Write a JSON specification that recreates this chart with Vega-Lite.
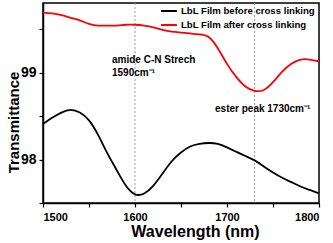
{
  "$schema": "https://vega.github.io/schema/vega-lite/v6.json",
  "width": 276,
  "height": 200,
  "autosize": "none",
  "padding": {"left": 43, "top": 3, "right": 14, "bottom": 40},
  "config": {
    "font": "Liberation Sans",
    "view": {"stroke": "black", "strokeWidth": 1.5},
    "axis": {"domainColor": "black", "domainWidth": 1.5, "tickColor": "black", "tickWidth": 1.2, "tickSize": 4, "grid": false, "labelFont": "Liberation Sans", "labelFontWeight": "bold", "labelColor": "black", "titleFont": "Liberation Sans", "titleFontWeight": "bold", "titleColor": "black"}
  },
  "datasets": {
    "spectra": [
      {"wl": 1500, "t": 98.41, "s": "LbL Film before cross linking"},
      {"wl": 1510, "t": 98.48, "s": "LbL Film before cross linking"},
      {"wl": 1520, "t": 98.54, "s": "LbL Film before cross linking"},
      {"wl": 1530, "t": 98.57, "s": "LbL Film before cross linking"},
      {"wl": 1540, "t": 98.54, "s": "LbL Film before cross linking"},
      {"wl": 1550, "t": 98.45, "s": "LbL Film before cross linking"},
      {"wl": 1560, "t": 98.28, "s": "LbL Film before cross linking"},
      {"wl": 1570, "t": 98.07, "s": "LbL Film before cross linking"},
      {"wl": 1580, "t": 97.88, "s": "LbL Film before cross linking"},
      {"wl": 1590, "t": 97.7, "s": "LbL Film before cross linking"},
      {"wl": 1600, "t": 97.6, "s": "LbL Film before cross linking"},
      {"wl": 1610, "t": 97.61, "s": "LbL Film before cross linking"},
      {"wl": 1620, "t": 97.7, "s": "LbL Film before cross linking"},
      {"wl": 1630, "t": 97.84, "s": "LbL Film before cross linking"},
      {"wl": 1640, "t": 97.98, "s": "LbL Film before cross linking"},
      {"wl": 1650, "t": 98.08, "s": "LbL Film before cross linking"},
      {"wl": 1660, "t": 98.15, "s": "LbL Film before cross linking"},
      {"wl": 1670, "t": 98.18, "s": "LbL Film before cross linking"},
      {"wl": 1680, "t": 98.19, "s": "LbL Film before cross linking"},
      {"wl": 1690, "t": 98.18, "s": "LbL Film before cross linking"},
      {"wl": 1700, "t": 98.14, "s": "LbL Film before cross linking"},
      {"wl": 1710, "t": 98.09, "s": "LbL Film before cross linking"},
      {"wl": 1720, "t": 98.04, "s": "LbL Film before cross linking"},
      {"wl": 1730, "t": 97.99, "s": "LbL Film before cross linking"},
      {"wl": 1740, "t": 97.92, "s": "LbL Film before cross linking"},
      {"wl": 1750, "t": 97.85, "s": "LbL Film before cross linking"},
      {"wl": 1760, "t": 97.79, "s": "LbL Film before cross linking"},
      {"wl": 1770, "t": 97.74, "s": "LbL Film before cross linking"},
      {"wl": 1780, "t": 97.69, "s": "LbL Film before cross linking"},
      {"wl": 1790, "t": 97.65, "s": "LbL Film before cross linking"},
      {"wl": 1800, "t": 97.61, "s": "LbL Film before cross linking"},
      {"wl": 1500, "t": 99.69, "s": "LbL Film after cross linking"},
      {"wl": 1510, "t": 99.68, "s": "LbL Film after cross linking"},
      {"wl": 1520, "t": 99.66, "s": "LbL Film after cross linking"},
      {"wl": 1530, "t": 99.63, "s": "LbL Film after cross linking"},
      {"wl": 1540, "t": 99.6, "s": "LbL Film after cross linking"},
      {"wl": 1550, "t": 99.56, "s": "LbL Film after cross linking"},
      {"wl": 1560, "t": 99.54, "s": "LbL Film after cross linking"},
      {"wl": 1570, "t": 99.54, "s": "LbL Film after cross linking"},
      {"wl": 1580, "t": 99.54, "s": "LbL Film after cross linking"},
      {"wl": 1590, "t": 99.55, "s": "LbL Film after cross linking"},
      {"wl": 1600, "t": 99.55, "s": "LbL Film after cross linking"},
      {"wl": 1610, "t": 99.54, "s": "LbL Film after cross linking"},
      {"wl": 1620, "t": 99.52, "s": "LbL Film after cross linking"},
      {"wl": 1630, "t": 99.49, "s": "LbL Film after cross linking"},
      {"wl": 1640, "t": 99.47, "s": "LbL Film after cross linking"},
      {"wl": 1650, "t": 99.46, "s": "LbL Film after cross linking"},
      {"wl": 1660, "t": 99.45, "s": "LbL Film after cross linking"},
      {"wl": 1670, "t": 99.44, "s": "LbL Film after cross linking"},
      {"wl": 1680, "t": 99.41, "s": "LbL Film after cross linking"},
      {"wl": 1690, "t": 99.28, "s": "LbL Film after cross linking"},
      {"wl": 1700, "t": 99.1, "s": "LbL Film after cross linking"},
      {"wl": 1710, "t": 98.95, "s": "LbL Film after cross linking"},
      {"wl": 1720, "t": 98.84, "s": "LbL Film after cross linking"},
      {"wl": 1730, "t": 98.79, "s": "LbL Film after cross linking"},
      {"wl": 1740, "t": 98.8, "s": "LbL Film after cross linking"},
      {"wl": 1750, "t": 98.89, "s": "LbL Film after cross linking"},
      {"wl": 1760, "t": 99.01, "s": "LbL Film after cross linking"},
      {"wl": 1770, "t": 99.1, "s": "LbL Film after cross linking"},
      {"wl": 1780, "t": 99.15, "s": "LbL Film after cross linking"},
      {"wl": 1790, "t": 99.15, "s": "LbL Film after cross linking"},
      {"wl": 1800, "t": 99.13, "s": "LbL Film after cross linking"}
    ],
    "marks": [{"wl": 1600}, {"wl": 1730}],
    "notes": [
      {"wl": 1575, "t": 99.11, "label": "amide C-N Strech"},
      {"wl": 1575, "t": 98.96, "label": "1590cm⁻¹"},
      {"wl": 1687, "t": 98.55, "label": "ester peak 1730cm⁻¹"}
    ]
  },
  "layer": [
    {
      "data": {"name": "marks"},
      "mark": {"type": "rule", "color": "#999999", "strokeDash": [2, 2], "strokeWidth": 1},
      "encoding": {
        "x": {"field": "wl", "type": "quantitative", "scale": {"domain": [1500, 1800]}}
      }
    },
    {
      "data": {"name": "spectra"},
      "mark": {"type": "line", "interpolate": "natural", "strokeWidth": 1.8},
      "encoding": {
        "x": {"field": "wl", "type": "quantitative", "scale": {"domain": [1500, 1800], "nice": false},
          "axis": {"title": "Wavelength (nm)", "titleFontSize": 16, "labelFontSize": 11, "values": [1500, 1550, 1600, 1650, 1700, 1750, 1800], "labelExpr": "datum.value % 100 == 0 ? format(datum.value, 'd') : ''", "titleX": 152, "titleY": 20, "titleBaseline": "top", "labelPadding": 4}},
        "y": {"field": "t", "type": "quantitative", "scale": {"domain": [97.5, 99.8], "nice": false, "zero": false},
          "axis": {"title": "Transmittance", "titleFontSize": 15, "labelFontSize": 14, "values": [97.5, 98, 98.5, 99, 99.5], "labelExpr": "datum.value % 1 == 0 ? format(datum.value, 'd') : ''", "titleX": -25, "titleY": 119, "titleBaseline": "alphabetic", "titleAngle": -90, "labelPadding": 3}},
        "color": {"field": "s", "type": "nominal", "sort": ["LbL Film before cross linking", "LbL Film after cross linking"],
          "scale": {"domain": ["LbL Film before cross linking", "LbL Film after cross linking"], "range": ["black", "#ff0000"]},
          "legend": {"title": null, "orient": "none", "legendX": 117, "legendY": -1, "symbolType": "stroke", "symbolStrokeWidth": 2, "symbolSize": 250, "labelFont": "Liberation Sans", "labelFontWeight": "bold", "labelFontSize": 9.6, "labelColor": "black", "labelOffset": 3, "rowPadding": 0, "padding": 0}}
      }
    },
    {
      "data": {"name": "notes"},
      "mark": {"type": "text", "align": "left", "baseline": "alphabetic", "font": "Liberation Sans", "fontWeight": "bold", "fontSize": 10, "color": "black"},
      "encoding": {
        "x": {"field": "wl", "type": "quantitative"},
        "y": {"field": "t", "type": "quantitative"},
        "text": {"field": "label"}
      }
    }
  ]
}
